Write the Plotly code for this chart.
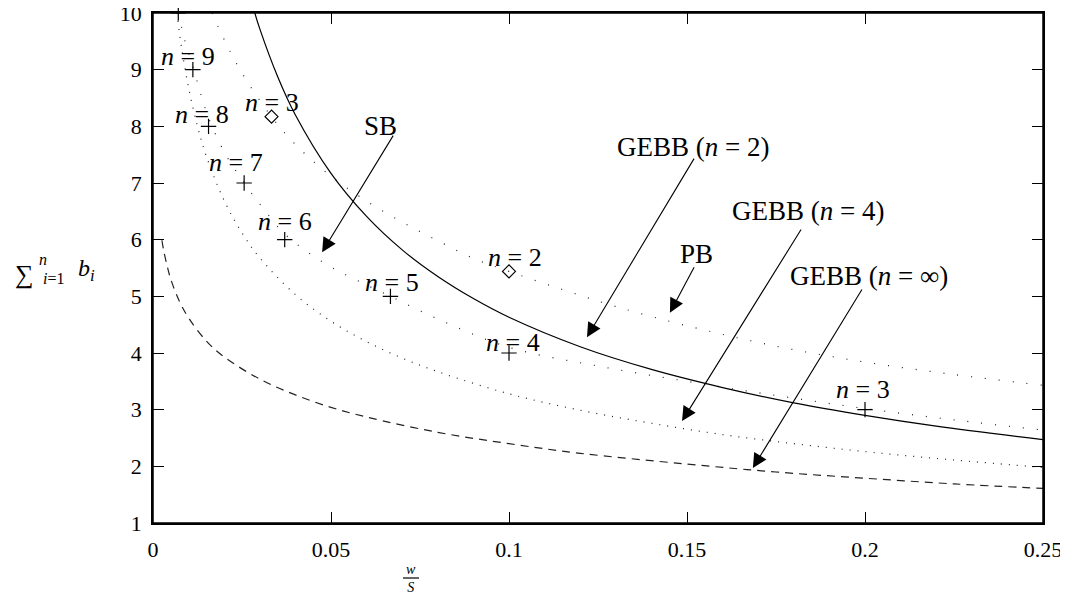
import plotly.graph_objects as go

# ---------------- data ----------------
pb_x = [0.0166, 0.02, 0.025, 0.0333, 0.04, 0.05, 0.06, 0.07, 0.08, 0.09, 0.1,
        0.115, 0.13, 0.15, 0.175, 0.2, 0.225, 0.25]
pb_y = [10.0, 9.53, 8.94, 8.17, 7.68, 7.12, 6.68, 6.31, 5.98, 5.67, 5.44,
        5.12, 4.82, 4.48, 4.12, 3.84, 3.62, 3.43]

sb_x = [0.0071, 0.009, 0.0112, 0.0135, 0.0156, 0.02, 0.0256, 0.031, 0.037, 0.0478,
        0.0567, 0.0667, 0.08, 0.1, 0.125, 0.15, 0.175, 0.2, 0.225, 0.25]
sb_y = [10.0, 9.5, 9.05, 8.55, 8.15, 7.55, 7.0, 6.55, 6.1, 5.6,
        5.3, 5.0, 4.6, 4.1, 3.77, 3.5, 3.25, 3.02, 2.82, 2.64]

gebb2_x = [0.0286, 0.03, 0.035, 0.04, 0.05, 0.06, 0.07, 0.08, 0.09, 0.1, 0.12,
           0.14, 0.16, 0.18, 0.2, 0.22, 0.25]
gebb2_y = [10.0, 9.72, 8.88, 8.20, 7.17, 6.41, 5.82, 5.35, 4.96, 4.63, 4.11,
           3.71, 3.39, 3.12, 2.90, 2.71, 2.47]

gebb4_x = [0.0067, 0.008, 0.01, 0.0125, 0.015, 0.02, 0.025, 0.03, 0.04, 0.05, 0.06,
           0.07, 0.08, 0.1, 0.12, 0.14, 0.16, 0.18, 0.2, 0.22, 0.25]
gebb4_y = [10.0, 9.40, 8.68, 8.0, 7.47, 6.69, 6.12, 5.68, 5.03, 4.56, 4.20,
           3.91, 3.67, 3.28, 2.99, 2.76, 2.56, 2.40, 2.26, 2.14, 1.98]

gebbinf_x = [0.0025, 0.003, 0.004, 0.005, 0.0075, 0.01, 0.015, 0.02, 0.03, 0.04, 0.05,
             0.06, 0.08, 0.1, 0.12, 0.15, 0.175, 0.2, 0.225, 0.25]
gebbinf_y = [5.99, 5.81, 5.53, 5.30, 4.90, 4.62, 4.21, 3.93, 3.54, 3.26, 3.04,
             2.87, 2.60, 2.40, 2.23, 2.04, 1.90, 1.79, 1.69, 1.61]

sb_pts_x = [0.2, 0.1, 0.0667, 0.037, 0.0256, 0.0156, 0.0112, 0.0071]
sb_pts_y = [3, 4, 5, 6, 7, 8, 9, 10]
sb_pts_n = ["3", "4", "5", "6", "7", "8", "9", ""]

pb_pts_x = [0.1, 0.0333]
pb_pts_y = [5.44, 8.17]
pb_pts_n = ["2", "3"]

x_ticks = [0, 0.05, 0.1, 0.15, 0.2, 0.25]
x_tick_text = ["0", "0.05", "0.1", "0.15", "0.2", "0.25"]
y_ticks = [1, 2, 3, 4, 5, 6, 7, 8, 9, 10]

# arrows: label, head position (data)
arrow_labels = ["SB", "GEBB (<i>n</i> = 2)", "PB", "GEBB (<i>n</i> = 4)", "GEBB (<i>n</i> = ∞)"]
arrow_head_x = [0.0475, 0.1219, 0.1452, 0.1486, 0.1685]
arrow_head_y = [5.78, 4.28, 4.71, 2.80, 1.97]

# ---------------- layout helpers ----------------
OFF = 8                      # page body margin of the html page
W, H = 1068 - OFF, 592 - OFF
L, R, T, B = 153 - OFF, 1043 - OFF, 13 - OFF, 523 - OFF
FONT = "Liberation Serif"


def paper(px, py):
    """screen pixel (reference picture) -> paper coords"""
    px -= OFF
    py -= OFF
    return (px - L) / (R - L), (B - py) / (B - T)


def text_at(txt, px, py, size):
    xp, yp = paper(px, py)
    return dict(x=xp, y=yp, xref="paper", yref="paper", text=txt, showarrow=False,
                xanchor="center", yanchor="middle", font=dict(family=FONT, size=size, color="black"))


fig = go.Figure()

dot = "1px,13px"
fig.add_trace(go.Scatter(x=pb_x, y=pb_y, mode="lines", line=dict(color="#222", width=1.2, dash=dot),
                         line_shape="spline", showlegend=False))
fig.add_trace(go.Scatter(x=sb_x, y=sb_y, mode="lines", line=dict(color="#222", width=1.2, dash=dot),
                         line_shape="spline", showlegend=False))
fig.add_trace(go.Scatter(x=gebb2_x, y=gebb2_y, mode="lines", line=dict(color="black", width=1.2),
                         line_shape="spline", showlegend=False))
fig.add_trace(go.Scatter(x=gebb4_x, y=gebb4_y, mode="lines", line=dict(color="#222", width=1.2, dash="1px,7px"),
                         line_shape="spline", showlegend=False))
fig.add_trace(go.Scatter(x=gebbinf_x, y=gebbinf_y, mode="lines", line=dict(color="#222", width=1.2, dash="8px,6px"),
                         line_shape="spline", showlegend=False))

fig.add_trace(go.Scatter(x=sb_pts_x, y=sb_pts_y, mode="markers",
                         marker=dict(symbol="cross-thin", size=11, line=dict(color="black", width=1.2)),
                         showlegend=False, cliponaxis=False))
fig.add_trace(go.Scatter(x=pb_pts_x, y=pb_pts_y, mode="markers",
                         marker=dict(symbol="diamond-open", size=10, color="black", line=dict(width=1.2)),
                         showlegend=False))

ann = []
# n = k labels over the markers
sb_shift = [(-2, 20), (4, 11), (2, 14), (0, 18), (-8, 21), (-7, 12), (-5, 13), (0, 0)]
for xv, yv, nv, (dx, dy) in zip(sb_pts_x, sb_pts_y, sb_pts_n, sb_shift):
    if nv:
        ann.append(dict(x=xv, y=yv, xref="x", yref="y", text=f"<i>n</i> = {nv}", showarrow=False,
                        xanchor="center", yanchor="middle",
                        xshift=dx, yshift=dy, font=dict(family=FONT, size=26, color="black")))
pb_shift = [(6, 14), (0, 14)]
for xv, yv, nv, (dx, dy) in zip(pb_pts_x, pb_pts_y, pb_pts_n, pb_shift):
    ann.append(dict(x=xv, y=yv, xref="x", yref="y", text=f"<i>n</i> = {nv}", showarrow=False,
                    xanchor="center", yanchor="middle",
                    xshift=dx, yshift=dy, font=dict(family=FONT, size=26, color="black")))

# arrows (tail offsets in pixels) and their labels
tail_off = [(72, -118), (108, -180), (25, -47), (120, -193), (110, -180)]
label_px = [(380, 126), (693, 147), (696, 254), (808, 211), (869, 276)]
for txt, hx, hy, (ax, ay), (lx, ly) in zip(arrow_labels, arrow_head_x, arrow_head_y, tail_off, label_px):
    ann.append(dict(x=hx, y=hy, xref="x", yref="y", ax=ax, ay=ay, text="", showarrow=True,
                    arrowhead=2, arrowsize=2.6, arrowwidth=1.1, arrowcolor="black", standoff=0))
    ann.append(text_at(txt, lx, ly, 27))

# y axis title: sum_{i=1}^n b_i
ann.append(text_at("∑", 24, 274, 26))
ann.append(text_at("<i>n</i>", 43, 260, 16))
ann.append(text_at("<i>i</i>=1", 53, 279, 16))
ann.append(text_at("<i>b<sub>i</sub></i>", 86, 270, 24))

# x axis title: w / S fraction (one two-line text with a bar between the lines)
ann.append(text_at("<i>w</i><br><i>S</i>", 411, 578, 14))
x0, yb = paper(403, 578)
x1, _ = paper(419, 578)
shapes = [dict(type="line", xref="paper", yref="paper", x0=x0, x1=x1, y0=yb, y1=yb,
               line=dict(color="black", width=1.2)),
          dict(type="rect", xref="paper", yref="paper", x0=0, x1=1, y0=0, y1=1,
               line=dict(color="black", width=1.5), layer="above")]

axis_common = dict(showline=True, linecolor="black", linewidth=1.5, mirror="allticks", ticks="inside",
                   ticklen=11, tickcolor="black", tickwidth=1.3, showgrid=False, zeroline=False,
                   tickfont=dict(family=FONT, size=22, color="black"), automargin=False,
                   ticklabeloverflow="allow")

fig.update_layout(
    width=W, height=H, autosize=False,
    margin=dict(l=L, r=W - R, t=T, b=H - B, pad=0, autoexpand=False),
    paper_bgcolor="white", plot_bgcolor="white",
    xaxis=dict(range=[0, 0.25], tickvals=x_ticks, ticktext=x_tick_text, ticklabelstandoff=6, **axis_common),
    yaxis=dict(range=[1, 10], tickvals=y_ticks, ticklabelstandoff=5, **axis_common),
    annotations=ann, shapes=shapes,
)

fig.write_html("out.html")
